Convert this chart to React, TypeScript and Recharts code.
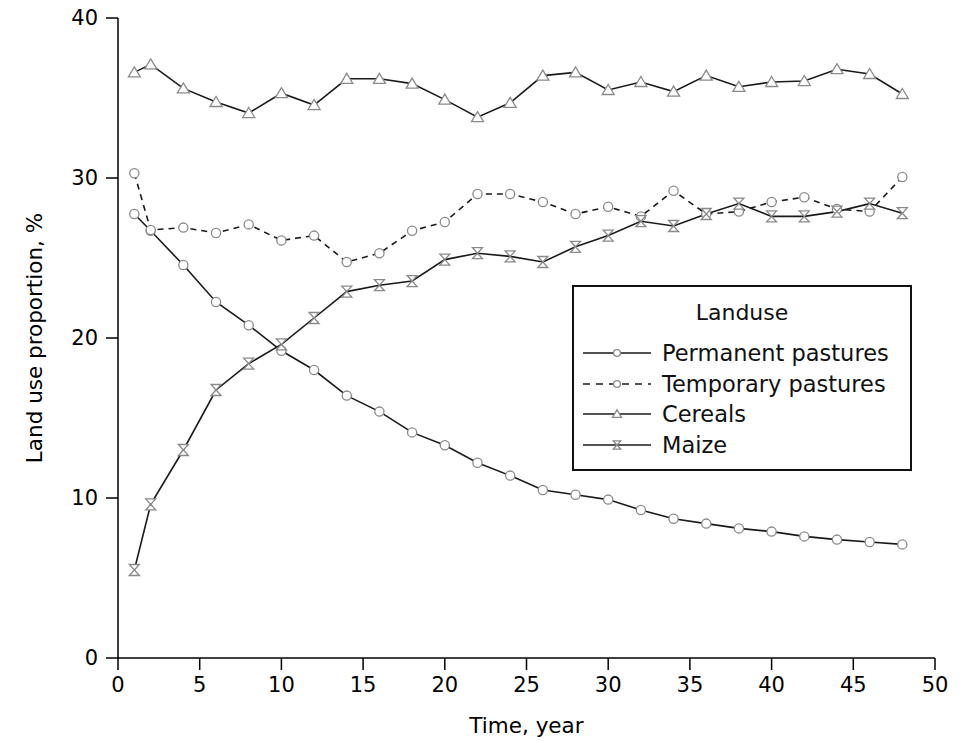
import React from 'react';
import { LineChart, Line, XAxis, YAxis } from 'recharts';

// Years sampled in the figure
const years = [1, 2, 4, 6, 8, 10, 12, 14, 16, 18, 20, 22, 24, 26, 28, 30, 32, 34, 36, 38, 40, 42, 44, 46, 48];

const permanentPastures = [27.75, 26.7, 24.56, 22.25, 20.8, 19.2, 18.0, 16.4, 15.4, 14.1, 13.3, 12.2, 11.4, 10.5, 10.2, 9.9, 9.25, 8.7, 8.4, 8.1, 7.9, 7.6, 7.4, 7.25, 7.1];
const temporaryPastures = [30.3, 26.75, 26.9, 26.56, 27.1, 26.1, 26.4, 24.75, 25.3, 26.7, 27.25, 29.0, 29.0, 28.5, 27.75, 28.2, 27.6, 29.2, 27.75, 27.9, 28.5, 28.8, 28.06, 27.9, 30.06];
const cereals = [36.6, 37.1, 35.6, 34.75, 34.06, 35.3, 34.56, 36.2, 36.2, 35.9, 34.9, 33.8, 34.7, 36.4, 36.6, 35.5, 36.0, 35.4, 36.4, 35.7, 36.0, 36.06, 36.8, 36.5, 35.25];
const maize = [5.5, 9.6, 13.0, 16.75, 18.4, 19.6, 21.25, 22.9, 23.3, 23.56, 24.9, 25.3, 25.1, 24.75, 25.7, 26.4, 27.3, 27.0, 27.75, 28.4, 27.6, 27.6, 27.9, 28.4, 27.8];

const xTicks = [0, 5, 10, 15, 20, 25, 30, 35, 40, 45, 50];
const yTicks = [0, 10, 20, 30, 40];

const chartData = years.map((year, i) => ({
  year,
  permanent: permanentPastures[i],
  temporary: temporaryPastures[i],
  cereals: cereals[i],
  maize: maize[i],
}));

const LINE = '#1a1a1a';
const MARK = '#8a8a8a';
const FONT = '"DejaVu Sans", Verdana, sans-serif';

type Shape = 'circle' | 'triangle' | 'hourglass';

function marker(shape: Shape, cx: number, cy: number, key?: string | number, s = 1) {
  if (shape === 'circle') {
    return <circle key={key} cx={cx} cy={cy} r={4.6 * s} fill="#fff" stroke={MARK} strokeWidth={1.3} />;
  }
  if (shape === 'triangle') {
    const d = `M${cx},${cy - 5.5 * s} L${cx + 6 * s},${cy + 4.5 * s} L${cx - 6 * s},${cy + 4.5 * s} Z`;
    return <path key={key} d={d} fill="#fff" stroke={MARK} strokeWidth={1.3} />;
  }
  const w = 5 * s;
  const h = 5.5 * s;
  const d = `M${cx - w},${cy - h} L${cx + w},${cy - h} L${cx},${cy} L${cx + w},${cy + h} L${cx - w},${cy + h} L${cx},${cy} Z`;
  return <path key={key} d={d} fill="#fff" stroke={MARK} strokeWidth={1.3} />;
}

const dotFor = (shape: Shape) => (props: any) => {
  const { cx, cy, index } = props;
  if (cx == null || cy == null) return <g key={index} />;
  return marker(shape, cx, cy, index);
};

const series = [
  { key: 'permanent', name: 'Permanent pastures', shape: 'circle' as Shape, dash: undefined },
  { key: 'temporary', name: 'Temporary pastures', shape: 'circle' as Shape, dash: '6 5' },
  { key: 'cereals', name: 'Cereals', shape: 'triangle' as Shape, dash: undefined },
  { key: 'maize', name: 'Maize', shape: 'hourglass' as Shape, dash: undefined },
];

function LegendBox() {
  return (
    <div
      style={{
        position: 'absolute',
        left: 572,
        top: 285,
        width: 336,
        height: 182,
        border: '2px solid #111',
        background: '#fff',
        fontFamily: FONT,
        color: '#111',
      }}
    >
      <div style={{ position: 'absolute', top: 12, width: '100%', textAlign: 'center', fontSize: 22, lineHeight: '28px' }}>Landuse</div>
      {series.map((s, i) => (
        <div key={s.key} style={{ position: 'absolute', left: 9, top: 52 + i * 30.7, height: 28, display: 'flex', alignItems: 'center' }}>
          <svg width={68} height={24}>
            <line x1={0} y1={12} x2={68} y2={12} stroke={LINE} strokeWidth={1.5} strokeDasharray={s.dash ? '7 6' : undefined} />
            {marker(s.shape, 34, 12, undefined, 0.75)}
          </svg>
          <span style={{ marginLeft: 11, fontSize: 22.5, lineHeight: '28px', whiteSpace: 'nowrap' }}>{s.name}</span>
        </div>
      ))}
    </div>
  );
}

export default function App() {
  return (
    <div style={{ position: 'absolute', left: 0, top: 0, width: 966, height: 741, background: '#fff' }}>
      <LineChart width={966} height={741} data={chartData} margin={{ top: 18, right: 31, left: 0, bottom: 8 }}>
        <XAxis
          dataKey="year"
          type="number"
          domain={[0, 50]}
          ticks={xTicks}
          interval={0}
          height={75}
          tickSize={12}
          tickMargin={7}
          axisLine={{ stroke: '#000', strokeWidth: 1.5 }}
          tickLine={{ stroke: '#000', strokeWidth: 1.5 }}
          tick={{ fill: '#000', fontSize: 21, fontFamily: FONT }}
          label={{ value: 'Time, year', position: 'insideBottom', offset: 0, fill: '#000', fontSize: 21.5, fontFamily: FONT }}
        />
        <XAxis xAxisId="top" orientation="top" type="number" domain={[0, 50]} height={0} tick={false} tickLine={false} axisLine={{ stroke: '#999', strokeWidth: 1.5 }} />
        <YAxis
          type="number"
          domain={[0, 40]}
          ticks={yTicks}
          interval={0}
          width={118}
          tickSize={12}
          tickMargin={8}
          axisLine={{ stroke: '#000', strokeWidth: 1.5 }}
          tickLine={{ stroke: '#000', strokeWidth: 1.5 }}
          tick={{ fill: '#000', fontSize: 21, fontFamily: FONT }}
          label={{ value: 'Land use proportion, %', angle: -90, position: 'insideLeft', offset: 34, fill: '#000', fontSize: 21.5, fontFamily: FONT, style: { textAnchor: 'middle' } }}
        />
        <YAxis yAxisId="right" orientation="right" type="number" domain={[0, 40]} width={0} tick={false} tickLine={false} axisLine={{ stroke: '#999', strokeWidth: 1.5 }} />
        {series.map((s) => (
          <Line
            key={s.key}
            dataKey={s.key}
            name={s.name}
            type="linear"
            stroke={LINE}
            strokeWidth={1.6}
            strokeDasharray={s.dash}
            dot={dotFor(s.shape)}
            activeDot={false}
            isAnimationActive={false}
          />
        ))}
      </LineChart>
      <LegendBox />
    </div>
  );
}
